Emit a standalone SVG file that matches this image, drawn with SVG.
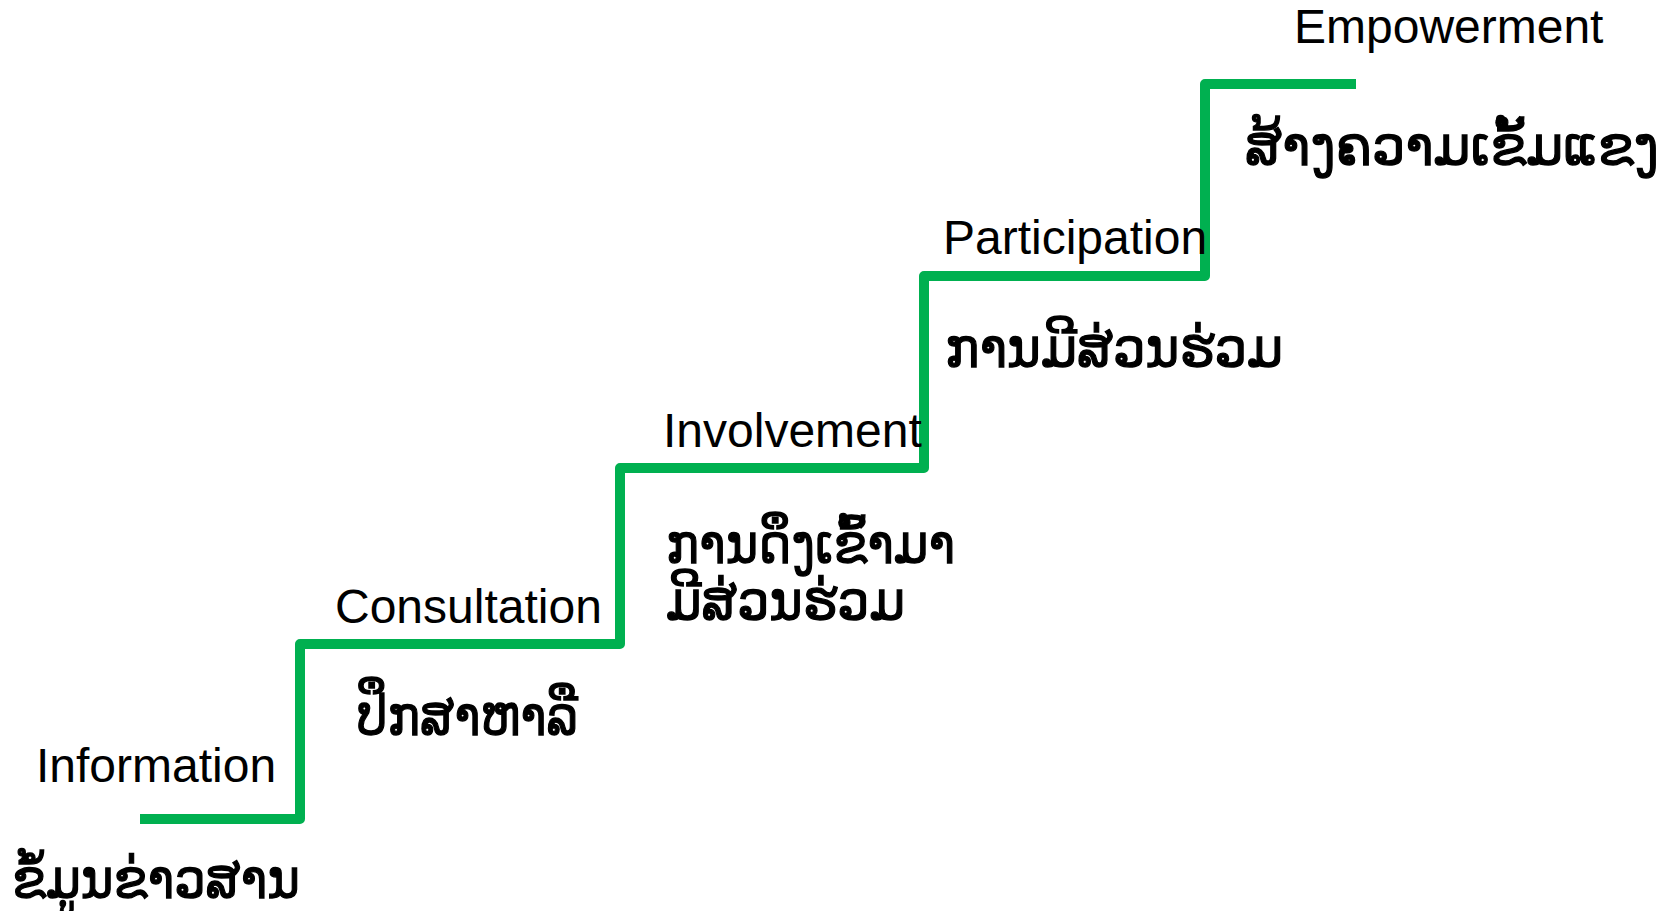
<svg xmlns="http://www.w3.org/2000/svg" width="1668" height="911" viewBox="0 0 1668 911">
<style>
.en{font-family:"Liberation Sans",Arial,sans-serif;font-size:48px;fill:#000}
.lo{font-family:"DejaVu Sans","Noto Sans",sans-serif;font-size:56px;fill:#000;stroke:#000;stroke-width:1.3}
.step{fill:none;stroke:#00B050;stroke-width:10;stroke-linejoin:round;stroke-linecap:butt}
</style>
<rect width="1668" height="911" fill="#fff"/>
<g id="connectors">
<path class="step" d="M140,819 H300 V644 H620 V468 H924 V276 H1205 V84 H1356"/>
</g>
<g id="information">
<text class="en" x="36" y="782">Information</text>
<text class="lo" x="12" y="898" textLength="288" lengthAdjust="spacingAndGlyphs">ຂໍ້ມູນຂ່າວສານ</text>
</g>
<g id="consultation">
<text class="en" x="335" y="623">Consultation</text>
<text class="lo" x="357" y="735" textLength="221" lengthAdjust="spacingAndGlyphs">ປຶກສາຫາລື</text>
</g>
<g id="involvement">
<text class="en" x="663" y="447">Involvement</text>
<text class="lo" x="666" y="563" textLength="289" lengthAdjust="spacingAndGlyphs">ການດຶງເຂົ້າມາ</text>
<text class="lo" x="666" y="620" textLength="239" lengthAdjust="spacingAndGlyphs">ມີສ່ວນຮ່ວມ</text>
</g>
<g id="participation">
<text class="en" x="943" y="254">Participation</text>
<text class="lo" x="945" y="367" textLength="338" lengthAdjust="spacingAndGlyphs">ການມີສ່ວນຮ່ວມ</text>
</g>
<g id="empowerment">
<text class="en" x="1294" y="43">Empowerment</text>
<text class="lo" x="1245" y="165" textLength="414" lengthAdjust="spacingAndGlyphs">ສ້າງຄວາມເຂັ້ມແຂງ</text>
</g>
</svg>
